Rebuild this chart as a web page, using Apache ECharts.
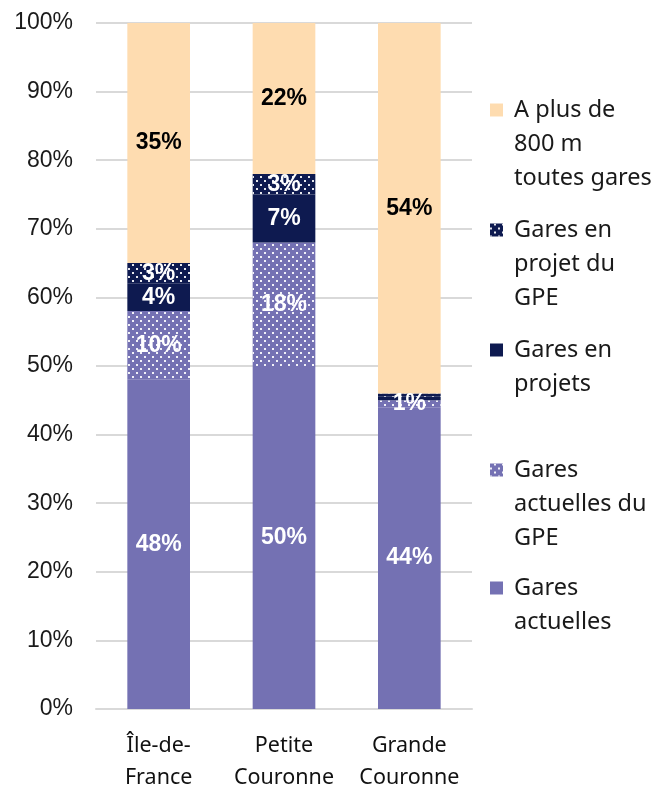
<!DOCTYPE html>
<html><head><meta charset="utf-8">
<script src="https://cdn.jsdelivr.net/npm/echarts@6/dist/echarts.min.js"></script>
<style>html,body{margin:0;padding:0;background:#fff}#c{width:655px;height:789px}</style>
</head><body><div id="c"></div>
<script>
const categories = ['Île-de-\nFrance', 'Petite\nCouronne', 'Grande\nCouronne'];
const seriesNames = ['Gares actuelles', 'Gares actuelles du GPE', 'Gares en projets', 'Gares en projet du GPE', 'A plus de 800 m toutes gares'];
const legendLabels = ['Gares\nactuelles', 'Gares\nactuelles du\nGPE', 'Gares en\nprojets', 'Gares en\nprojet du\nGPE', 'A plus de\n800 m\ntoutes gares'];
const garesActuelles = [48, 50, 44];
const garesActuellesGPE = [10, 18, 1];
const garesProjets = [4, 7, 0.5];
const garesProjetGPE = [3, 3, 0.5];
const plus800m = [35, 22, 54];
const yTickLabels = ['0%','10%','20%','30%','40%','50%','60%','70%','80%','90%','100%'];

const allValues = [garesActuelles, garesActuellesGPE, garesProjets, garesProjetGPE, plus800m];
const PURPLE = '#7471b3', NAVY = '#0e1a50', BEIGE = '#fedcb0';
const colors = [PURPLE, PURPLE, NAVY, NAVY, BEIGE];
const dotted = [false, true, false, true, false];
const labelColors = ['#fff', '#fff', '#fff', '#fff', '#000'];
const decal = {symbol: 'rect', symbolSize: 1, color: 'rgba(255,255,255,0.9)', dashArrayX: [[2, 6], [0, 4, 2, 2]], dashArrayY: [2, 2]};

const series = seriesNames.map((name, i) => ({
  name: name,
  type: 'bar',
  stack: 'total',
  barWidth: '50%',
  data: allValues[i],
  itemStyle: Object.assign({color: colors[i]}, dotted[i] ? {decal: decal} : {}),
  label: {
    show: true,
    position: 'inside',
    color: labelColors[i],
    fontFamily: 'Liberation Sans',
    fontWeight: 'bold',
    fontSize: 23,
    formatter: p => p.value >= 1 ? Math.round(p.value) + '%' : ''
  },
  emphasis: {disabled: true}
}));

const iconCenters = [588, 470, 350, 230, 110];
const LH = 34;
const legends = seriesNames.map((name, i) => {
  const lines = legendLabels[i].split('\n');
  const n = lines.length;
  const H = (2 * n - 1) * LH;
  const padded = '\n'.repeat(n - 1) + lines.map(l => ' ' + l).join('\n');
  return {
    data: [name],
    left: 485,
    top: iconCenters[i] - H / 2 - 5,
    orient: 'vertical',
    icon: 'rect',
    itemWidth: 13,
    itemHeight: 13,
    selectedMode: false,
    formatter: () => padded,
    textStyle: {
      fontFamily: 'Noto Sans',
      fontSize: 23.5,
      color: '#1a1a1a',
      lineHeight: LH
    }
  };
});

const chart = echarts.init(document.getElementById('c'), null, {renderer: 'canvas'});
chart.setOption({
  animation: false,
  backgroundColor: '#fff',
  grid: {left: 96, right: 183, top: 23, bottom: 80, containLabel: false, outerBoundsMode: 'none'},
  legend: legends,
  xAxis: {
    type: 'category',
    data: categories,
    axisTick: {show: false},
    axisLine: {lineStyle: {color: '#d9d9d9', width: 2}},
    axisLabel: {fontFamily: 'Noto Sans', fontSize: 21.5, color: '#111', lineHeight: 32, margin: 21, interval: 0}
  },
  yAxis: {
    type: 'value',
    min: 0, max: 100, interval: 10,
    axisLine: {show: false},
    axisTick: {show: false},
    splitLine: {lineStyle: {color: '#d9d9d9', width: 2}},
    axisLabel: {fontFamily: 'Liberation Sans', fontSize: 23, color: '#1a1a1a', margin: 23,
      formatter: v => yTickLabels[Math.round(v / 10)]}
  },
  series: series
});
</script>
</body></html>
